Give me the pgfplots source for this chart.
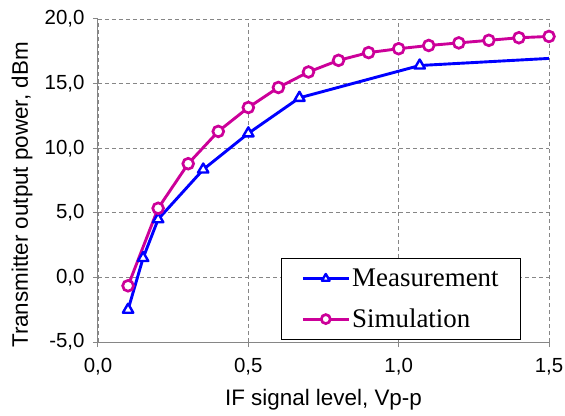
\documentclass[border=0pt]{standalone}
\usepackage{fontspec}
\setmainfont{Liberation Sans}
\newfontfamily\legfont{Liberation Serif}
\usepackage{pgfplots}
\pgfplotsset{compat=1.18}
\definecolor{meas}{RGB}{0,0,255}
\definecolor{simu}{RGB}{204,0,153}
\definecolor{axgray}{RGB}{134,134,134}
\begin{document}
\begin{tikzpicture}
\useasboundingbox (-98bp,-74bp) rectangle (467bp,342bp);
\begin{axis}[
  at={(0,0)}, anchor=south west,
  scale only axis, width=451bp, height=323bp,
  xmin=0, xmax=1.5, ymin=-5, ymax=20,
  xtick={0,0.5,1,1.5}, ytick={-5,0,5,10,15,20},
  axis x line*=bottom, axis y line*=left,
  axis line style={axgray, line width=1bp, -},
  tick align=outside, major tick length=5bp,
  tick style={axgray, line width=1bp},
  grid=major,
  major grid style={axgray, dash pattern=on 4bp off 3bp, line width=0.8bp},
  clip=false,
  tick label style={font=\fontsize{20.5}{24}\selectfont},
  /pgf/number format/fixed,
  /pgf/number format/fixed zerofill,
  /pgf/number format/precision=1,
  /pgf/number format/use comma,
  /pgf/number format/assume math mode=true,
  xticklabel style={yshift=-8bp},
  yticklabel style={xshift=-5bp},
  label style={font=\fontsize{22.5}{26}\selectfont},
  xlabel={IF signal level, Vp-p},
  ylabel={Transmitter output power, dBm},
  xlabel style={at={(axis description cs:0.5,-0.197)}, anchor=base},
  ylabel style={at={(axis description cs:-0.1685,0.455)}, anchor=center},
  legend style={at={(axis description cs:0.938,0.006)}, anchor=south east,
    draw=black, line width=0.8bp, fill=white,
    font=\fontsize{27}{30}\selectfont\legfont,
    nodes={inner sep=2bp}, inner xsep=20bp, inner ysep=8.5bp, row sep=17bp},
  legend cell align=left,
  legend image code/.code={
    \draw[#1, mark=none] (0bp,0bp) -- (46bp,0bp);
    \draw[#1, mark size=4.5bp, line width=2.2bp] plot coordinates {(23bp,0bp)};
  },
]
\addplot[meas, line width=2.9bp, mark=triangle*, mark size=6bp,
  mark options={solid, fill=white, draw=meas, line join=round, line width=2.4bp}, mark indices={1,...,7}]
  coordinates {(0.1,-2.5)(0.15,1.5)(0.2,4.5)(0.35,8.35)(0.5,11.15)(0.67,13.9)(1.07,16.4)(1.5,16.95)};
\addlegendentry{Measurement}
\addplot[simu, line width=2.9bp, mark=*, mark size=5.4bp,
  mark options={solid, fill=white, draw=simu, line width=2.7bp}]
  coordinates {(0.1,-0.65)(0.2,5.35)(0.3,8.8)(0.4,11.3)(0.5,13.15)(0.6,14.7)(0.7,15.9)(0.8,16.8)(0.9,17.4)(1.0,17.7)(1.1,17.95)(1.2,18.15)(1.3,18.35)(1.4,18.55)(1.5,18.65)};
\addlegendentry{Simulation}
\end{axis}
\end{tikzpicture}
\end{document}
